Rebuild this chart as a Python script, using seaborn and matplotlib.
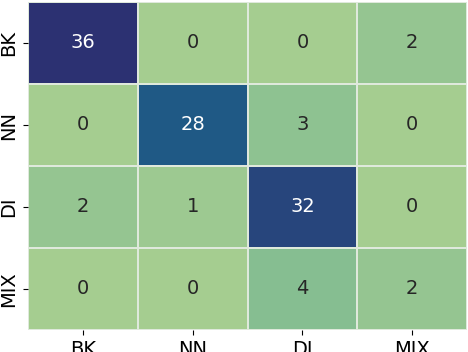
import numpy as np
import pandas as pd
import matplotlib
matplotlib.use("Agg")
import matplotlib.pyplot as plt
import seaborn as sns

# class labels and confusion counts
labels = ["BK", "NN", "DI", "MIX"]
row_bk = [36, 0, 0, 2]
row_nn = [0, 28, 3, 0]
row_di = [2, 1, 32, 0]
row_mix = [0, 0, 4, 2]

cm = pd.DataFrame([row_bk, row_nn, row_di, row_mix], index=labels, columns=labels)

fig = plt.figure(figsize=(4.68, 3.52), dpi=100)
ax = fig.add_axes([28 / 468, 22 / 352, 439 / 468, 328 / 352])

sns.heatmap(cm, annot=True, fmt="d", cmap="crest", cbar=False,
            linewidths=0.25, linecolor="#dfe9dc",
            annot_kws={"fontsize": 14}, ax=ax)

ax.tick_params(axis="both", labelsize=14)
ax.set_yticklabels(labels, rotation=90, va="center")
ax.set_xticklabels(labels, rotation=0)
ax.set_xlabel("")
ax.set_ylabel("")

fig.savefig("out.png", dpi=100)
